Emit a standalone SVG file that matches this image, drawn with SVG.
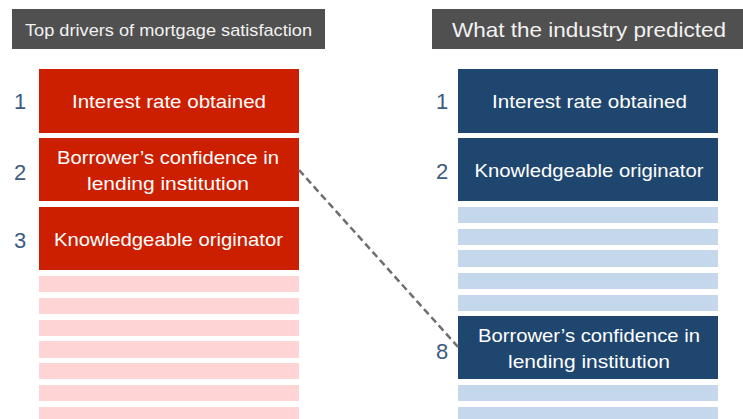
<svg xmlns="http://www.w3.org/2000/svg" width="743" height="419" viewBox="0 0 743 419">
  <style>
    .hdr { fill: #505050; }
    .hdr-text { fill: #f2f2f2; font-family: "Liberation Sans", Arial, sans-serif; }
    .red { fill: #cc1f00; }
    .pink { fill: #ffd4d4; }
    .blue { fill: #1f466f; }
    .ltblue { fill: #c5d7ea; }
    .label { fill: #ffffff; font-family: "Liberation Sans", Arial, sans-serif; font-size: 19px; text-anchor: middle; }
    .rank { fill: #3b5c80; font-family: "Liberation Sans", Arial, sans-serif; font-size: 22px; text-anchor: middle; }
    .link { stroke: #6e6e6e; stroke-width: 2.5; stroke-dasharray: 7 4; fill: none; }
  </style>

  <!-- column headers -->
  <g id="header-left">
    <rect class="hdr" x="12" y="9" width="313" height="40"/>
    <text class="hdr-text" x="168.5" y="36" font-size="17" text-anchor="middle" textLength="287" lengthAdjust="spacingAndGlyphs">Top drivers of mortgage satisfaction</text>
  </g>
  <g id="header-right">
    <rect class="hdr" x="432" y="9" width="311" height="40"/>
    <text class="hdr-text" x="589" y="37" font-size="21" text-anchor="middle" textLength="274" lengthAdjust="spacingAndGlyphs">What the industry predicted</text>
  </g>

  <!-- left column: actual drivers -->
  <g id="left-1">
    <rect class="red" x="39" y="69" width="260" height="64"/>
    <text class="rank" x="20" y="109">1</text>
    <text class="label" x="169" y="108" textLength="194" lengthAdjust="spacingAndGlyphs">Interest rate obtained</text>
  </g>
  <g id="left-2">
    <rect class="red" x="39" y="138" width="260" height="63"/>
    <text class="rank" x="20" y="180">2</text>
    <text class="label" x="168" y="164" textLength="222" lengthAdjust="spacingAndGlyphs">Borrower’s confidence in</text>
    <text class="label" x="168" y="190" textLength="162" lengthAdjust="spacingAndGlyphs">lending institution</text>
  </g>
  <g id="left-3">
    <rect class="red" x="39" y="207" width="260" height="63"/>
    <text class="rank" x="20" y="248">3</text>
    <text class="label" x="168.5" y="246" textLength="229" lengthAdjust="spacingAndGlyphs">Knowledgeable originator</text>
  </g>
  <g id="left-rest">
    <rect class="pink" x="39" y="276" width="260" height="16"/>
    <rect class="pink" x="39" y="298" width="260" height="16"/>
    <rect class="pink" x="39" y="320" width="260" height="16"/>
    <rect class="pink" x="39" y="341" width="260" height="17"/>
    <rect class="pink" x="39" y="363" width="260" height="16"/>
    <rect class="pink" x="39" y="385" width="260" height="16"/>
    <rect class="pink" x="39" y="407" width="260" height="16"/>
  </g>

  <!-- right column: predicted ranking -->
  <g id="right-1">
    <rect class="blue" x="458" y="69" width="260" height="64"/>
    <text class="rank" x="442" y="109">1</text>
    <text class="label" x="589.5" y="108" textLength="195" lengthAdjust="spacingAndGlyphs">Interest rate obtained</text>
  </g>
  <g id="right-2">
    <rect class="blue" x="458" y="138" width="260" height="63"/>
    <text class="rank" x="442" y="179">2</text>
    <text class="label" x="589" y="177" textLength="229" lengthAdjust="spacingAndGlyphs">Knowledgeable originator</text>
  </g>
  <g id="right-rest-upper">
    <rect class="ltblue" x="458" y="207" width="260" height="16"/>
    <rect class="ltblue" x="458" y="229" width="260" height="16"/>
    <rect class="ltblue" x="458" y="250" width="260" height="17"/>
    <rect class="ltblue" x="458" y="273" width="260" height="16"/>
    <rect class="ltblue" x="458" y="295" width="260" height="16"/>
  </g>
  <g id="right-8">
    <rect class="blue" x="458" y="316" width="260" height="63"/>
    <text class="rank" x="442" y="359">8</text>
    <text class="label" x="589" y="342" textLength="222" lengthAdjust="spacingAndGlyphs">Borrower’s confidence in</text>
    <text class="label" x="589" y="368" textLength="162" lengthAdjust="spacingAndGlyphs">lending institution</text>
  </g>
  <g id="right-rest-lower">
    <rect class="ltblue" x="458" y="385" width="260" height="16"/>
    <rect class="ltblue" x="458" y="407" width="260" height="16"/>
  </g>

  <!-- connector: rank 2 actual to rank 8 predicted -->
  <g id="connectors">
    <line class="link" x1="299" y1="170" x2="459" y2="348"/>
  </g>
</svg>
